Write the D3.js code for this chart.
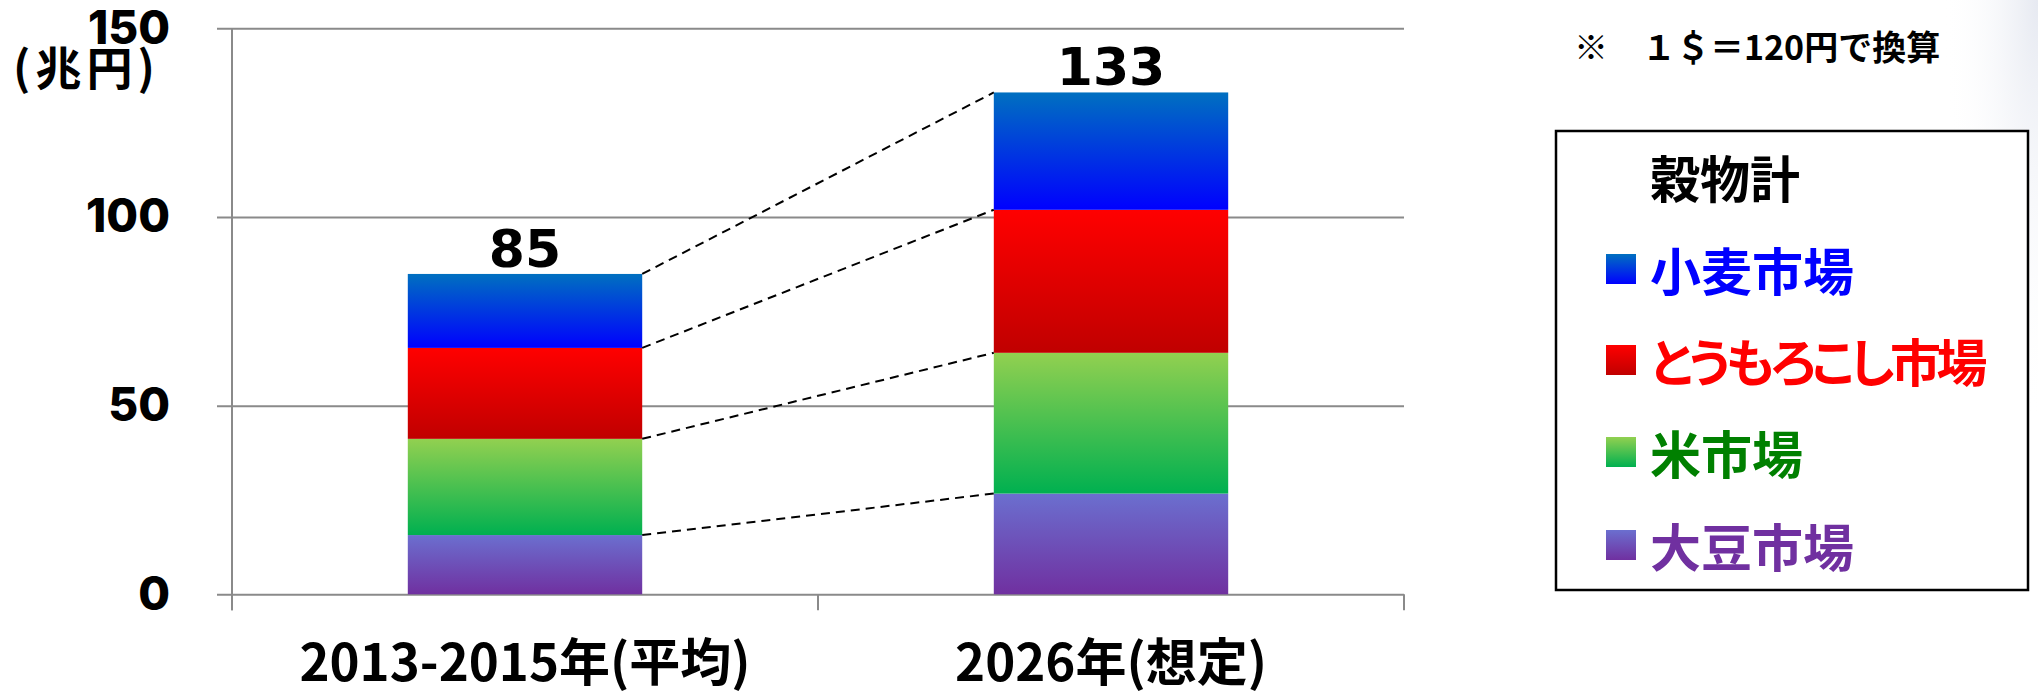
<!DOCTYPE html>
<html>
<head>
<meta charset="utf-8">
<script src="https://cdn.jsdelivr.net/npm/d3@7"></script>
<style>
  html, body { margin: 0; padding: 0; background: #ffffff; }
  svg { display: block; }
  .cjk { font-family: "Noto Sans CJK JP", "Noto Sans", sans-serif; font-weight: 700; }
  .palt { font-feature-settings: "palt" 1; }
</style>
</head>
<body>
<script>
// ---------------- data ----------------
const categories = ["2013-2015年(平均)", "2026年(想定)"];
const soy   = [15.7, 26.7];   // 大豆市場
const rice  = [25.5, 37.3];   // 米市場
const corn  = [24.1, 37.9];   // とうもろこし市場
const wheat = [19.6, 31.1];   // 小麦市場
const totals = [85, 133];
const yTicks = [0, 50, 100, 150];
const seriesKeys  = ["soy", "rice", "corn", "wheat"];            // stacking order (bottom -> top)
const legendOrder = ["wheat", "corn", "rice", "soy"];
const seriesNames = { wheat: "小麦市場", corn: "とうもろこし市場", rice: "米市場", soy: "大豆市場" };
const unitLabel = "(兆円)";
const noteText = "※　１＄＝120円で換算";
const legendTitle = "穀物計";

// ---------------- styles ----------------
const gradStops = {
  wheat: ["#0070C0", "#0000FF"],
  corn:  ["#FF0000", "#C00000"],
  rice:  ["#92D050", "#00B050"],
  soy:   ["#6B6FCF", "#7030A0"]
};
const textColors = { wheat: "#0000FF", corn: "#FF0000", rice: "#008000", soy: "#7030A0" };
const legendSpacing = { wheat: 0, corn: -4.5, rice: 0, soy: 0 };
const gridColor = "#8a8a8a";

const W = 2038, H = 691;
const svg = d3.select("body").append("svg").attr("width", W).attr("height", H);
const defs = svg.append("defs");

seriesKeys.forEach(k => {
  const g = defs.append("linearGradient").attr("id", "g-" + k)
    .attr("x1", 0).attr("y1", 0).attr("x2", 0).attr("y2", 1);
  g.append("stop").attr("offset", "0%").attr("stop-color", gradStops[k][0]);
  g.append("stop").attr("offset", "100%").attr("stop-color", gradStops[k][1]);
});

// subtle slide shading at top-right
const rg = defs.append("radialGradient").attr("id", "shade")
  .attr("gradientUnits", "userSpaceOnUse")
  .attr("cx", W).attr("cy", 0).attr("r", 430)
  .attr("gradientTransform", `translate(${W},0) scale(0.22,1) translate(${-W},0)`);
rg.append("stop").attr("offset", "0%").attr("stop-color", "#e6e9f1").attr("stop-opacity", 1);
rg.append("stop").attr("offset", "100%").attr("stop-color", "#ffffff").attr("stop-opacity", 0);
svg.append("rect").attr("x", W - 140).attr("y", 0).attr("width", 140).attr("height", 460)
  .attr("fill", "url(#shade)");

// ---------------- scales ----------------
const plotLeft = 232, plotRight = 1404, plotBottom = 594.3, plotTop = 28.3;
const y = d3.scaleLinear().domain([0, 150]).range([plotBottom, plotTop]);
const x = d3.scaleBand().domain(categories).range([plotLeft, plotRight]).padding(0);
const barW = x.bandwidth() * 0.4;
const bx = c => x(c) + (x.bandwidth() - barW) / 2;

// ---------------- gridlines ----------------
const gridG = svg.append("g").attr("transform", `translate(${plotRight},0)`)
  .call(d3.axisLeft(y).tickValues(yTicks).tickSize(plotRight - 217).tickFormat(""));
gridG.select(".domain").remove();
gridG.selectAll(".tick line").attr("stroke", gridColor).attr("stroke-width", 2);

// y axis line
svg.append("line").attr("x1", plotLeft).attr("x2", plotLeft)
  .attr("y1", y(150)).attr("y2", plotBottom + 16)
  .attr("stroke", gridColor).attr("stroke-width", 2);

// x boundary ticks
const bounds = categories.map(c => x(c)).concat([plotRight]);
svg.append("g").selectAll("line").data(bounds).join("line")
  .attr("x1", d => d).attr("x2", d => d)
  .attr("y1", plotBottom).attr("y2", plotBottom + 16)
  .attr("stroke", gridColor).attr("stroke-width", 2);

// y tick labels
const yLab = svg.append("g").attr("transform", `translate(${plotLeft},0)`)
  .call(d3.axisLeft(y).tickValues(yTicks).tickSize(0).tickPadding(62));
yLab.select(".domain").remove();
yLab.selectAll("text").attr("font-family", "Inter, 'DejaVu Sans', sans-serif")
  .attr("font-weight", 800).attr("font-size", 46).attr("fill", "#000");

// x labels
const xLab = svg.append("g").attr("transform", `translate(0,${plotBottom})`)
  .call(d3.axisBottom(x).tickSize(0).tickPadding(50));
xLab.select(".domain").remove();
xLab.selectAll("text").attr("class", "cjk").attr("font-size", 51).attr("fill", "#000");

// unit label
svg.append("text").attr("class", "cjk").attr("x", 13).attr("y", 85)
  .attr("font-size", 46).attr("fill", "#000")
  .attr("textLength", 142).attr("lengthAdjust", "spacing")
  .text(unitLabel);

// ---------------- bars ----------------
const table = categories.map((c, i) => ({ cat: c, soy: soy[i], rice: rice[i], corn: corn[i], wheat: wheat[i] }));
const stacked = d3.stack().keys(seriesKeys)(table);

svg.append("g").selectAll("g").data(stacked).join("g")
  .attr("fill", d => `url(#g-${d.key})`)
  .selectAll("rect").data(d => d).join("rect")
  .attr("x", d => bx(d.data.cat))
  .attr("width", barW)
  .attr("y", d => y(d[1]))
  .attr("height", d => y(d[0]) - y(d[1]));

// connectors
const line = d3.line();
svg.append("g").selectAll("path").data(stacked).join("path")
  .attr("d", s => line([[bx(categories[0]) + barW, y(s[0][1])], [bx(categories[1]), y(s[1][1])]]))
  .attr("fill", "none").attr("stroke", "#000").attr("stroke-width", 2)
  .attr("stroke-dasharray", "9,6");

// totals
svg.append("g").selectAll("text").data(categories).join("text")
  .attr("x", c => x(c) + x.bandwidth() / 2)
  .attr("y", (c, i) => y(d3.sum(seriesKeys, k => table[i][k])) - 7)
  .attr("text-anchor", "middle")
  .attr("font-family", "'DejaVu Sans', sans-serif").attr("font-weight", 700)
  .attr("font-size", 52).attr("fill", "#000")
  .text((c, i) => totals[i]);

// ---------------- note & legend ----------------
svg.append("text").attr("class", "cjk").attr("x", 1574).attr("y", 60)
  .attr("font-size", 34).attr("fill", "#000").text(noteText);

svg.append("rect").attr("x", 1556).attr("y", 131).attr("width", 472).attr("height", 459)
  .attr("fill", "#fff").attr("stroke", "#000").attr("stroke-width", 2.5);

svg.append("text").attr("class", "cjk").attr("x", 1650).attr("y", 176)
  .attr("dominant-baseline", "central").attr("font-size", 50).attr("fill", "#000").text(legendTitle);

const legendY = [269, 360, 452, 545];
const items = svg.append("g").selectAll("g").data(legendOrder).join("g")
  .attr("transform", (k, i) => `translate(0,${legendY[i]})`);
items.append("rect").attr("x", 1606).attr("y", -15).attr("width", 30).attr("height", 30)
  .attr("fill", k => `url(#g-${k})`);
items.append("text").attr("class", "cjk palt").attr("x", 1650).attr("y", 0)
  .attr("dominant-baseline", "central").attr("font-size", 51)
  .attr("letter-spacing", k => legendSpacing[k])
  .attr("fill", k => textColors[k]).text(k => seriesNames[k]);
</script>
</body>
</html>
